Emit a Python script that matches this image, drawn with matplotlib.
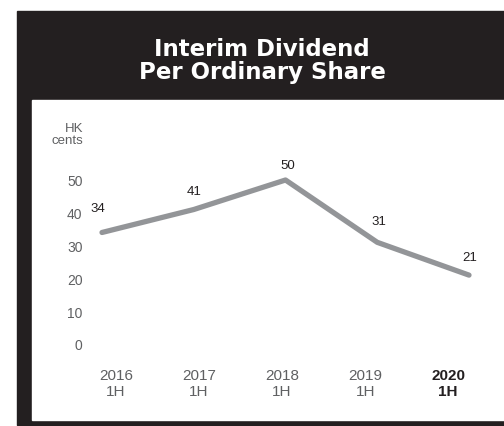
import matplotlib.pyplot as plt
from matplotlib.patches import Rectangle
import numpy as np

# data
periods = ['2016\n1H', '2017\n1H', '2018\n1H', '2019\n1H', '2020\n1H']
dividend = [34, 41, 50, 31, 21]
yticks = [0, 10, 20, 30, 40, 50]

W, H = 504, 427
DARK = '#231f20'
LINE = '#939598'
GREY = '#5f6062'


def fx(px):
    return px / W


def fy(py):
    return 1 - py / H


fig = plt.figure(figsize=(W / 100, H / 100), dpi=100)
fig.patch.set_facecolor('white')

# black frame and inner white panel
fig.add_artist(Rectangle((fx(17), fy(426)), fx(504) - fx(17), fy(12) - fy(426),
                         transform=fig.transFigure, color=DARK, zorder=0))
fig.add_artist(Rectangle((fx(32), fy(421)), fx(504) - fx(32), fy(101) - fy(421),
                         transform=fig.transFigure, color='white', zorder=0))

fig.text(fx(262), fy(61), 'Interim Dividend\nPer Ordinary Share', ha='center', va='center',
         color='white', fontsize=16.5, fontweight='bold', family='DejaVu Sans',
         linespacing=1.05)

# axes: left edge at 88px, bottom at 355px
ax = fig.add_axes([fx(88), fy(355), fx(504) - fx(88), fy(101) - fy(355)])
ax.set_facecolor('none')
for s in ax.spines.values():
    s.set_visible(False)

x = np.arange(len(dividend))
ax.plot(x, dividend, color=LINE, lw=3.8, solid_capstyle='round', solid_joinstyle='round')

ax.set_xlim(-(102 - 88) / 91.75, 4 + 35 / 91.75)
ax.set_ylim(-(355 - 345) / 3.28, 50 + 80 / 3.28)

# value labels
offsets = [(-0.05, 7.5), (0, 5.5), (0.02, 4.5), (0.02, 6.5), (0.01, 5.5)]
for xi, v, (dx, dy) in zip(x, dividend, offsets):
    ax.text(xi + dx, v + dy, str(v), ha='center', va='center', fontsize=9.5,
            family='Liberation Sans', color='#231f20')

ax.set_yticks(yticks)
ax.set_yticklabels([str(t) for t in yticks], family='Liberation Sans', fontsize=10, color=GREY)
ax.tick_params(axis='y', length=0, pad=4)

label_pos = 0.153 + 0.905 * x
ax.set_xticks(label_pos)
ax.set_xticklabels(periods, family='Liberation Sans', fontsize=11, color=GREY, linespacing=1.2)
ax.tick_params(axis='x', length=0, pad=10)
last = ax.get_xticklabels()[-1]
last.set_fontweight('bold')
last.set_color('#231f20')

fig.text(fx(83), fy(135), 'HK\ncents', ha='right', va='center', fontsize=9.5,
         family='Liberation Sans', color=GREY, linespacing=1.05)

fig.savefig('out.png', dpi=100)
